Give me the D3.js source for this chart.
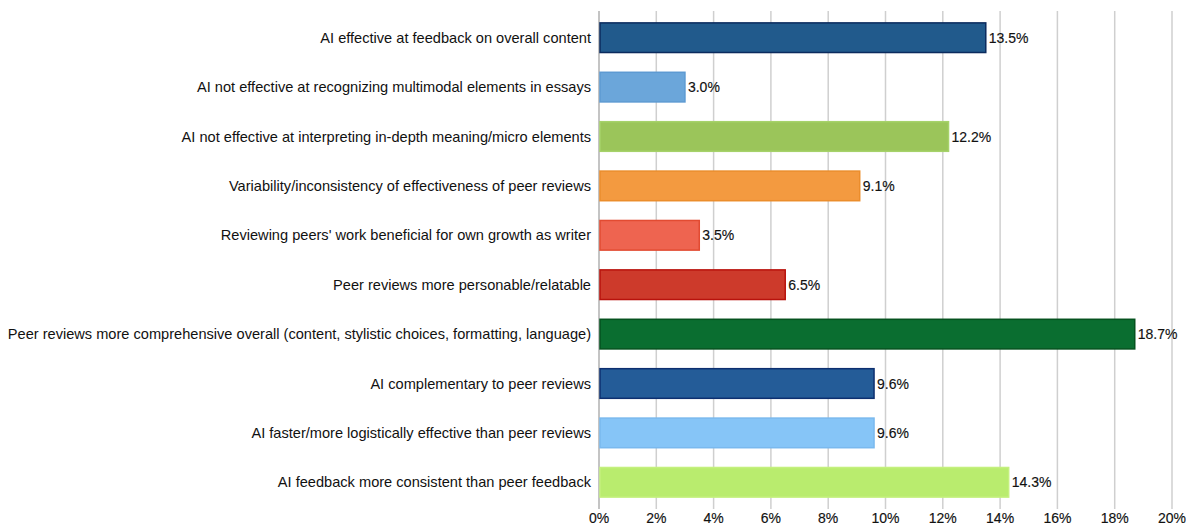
<!DOCTYPE html>
<html>
<head>
<meta charset="utf-8">
<script src="https://cdn.jsdelivr.net/npm/d3@7"></script>
<style>
  body { margin: 0; background: #fff; }
  text { font-family: "Liberation Sans", Arial, Helvetica, sans-serif; fill: #111; }
</style>
</head>
<body>
<svg id="chart" width="1186" height="525"></svg>
<script>
const categories = [
  'AI effective at feedback on overall content',
  'AI not effective at recognizing multimodal elements in essays',
  'AI not effective at interpreting in-depth meaning/micro elements',
  'Variability/inconsistency of effectiveness of peer reviews',
  "Reviewing peers' work beneficial for own growth as writer",
  'Peer reviews more personable/relatable',
  'Peer reviews more comprehensive overall (content, stylistic choices, formatting, language)',
  'AI complementary to peer reviews',
  'AI faster/more logistically effective than peer reviews',
  'AI feedback more consistent than peer feedback'
];
const values = [13.5, 3.0, 12.2, 9.1, 3.5, 6.5, 18.7, 9.6, 9.6, 14.3];
const fills = ['#215a8c', '#6ba6da', '#9bc55a', '#f39a40', '#ee6450', '#cd3a2b', '#0a6e30', '#245c98', '#86c5f7', '#b9ec6e'];
const strokes = ['#0b2b5e', '#5d9ad2', '#a6d26a', '#eb8d2c', '#e24b32', '#b8120c', '#05521f', '#0d2f70', '#7ab9ee', '#c4f07e'];
const ticks = [0, 2, 4, 6, 8, 10, 12, 14, 16, 18, 20];

const margin = { top: 13, right: 14, bottom: 18, left: 599 };
const width = 1186, height = 525;

const svg = d3.select('#chart');

const x = d3.scaleLinear()
  .domain([0, 20])
  .range([margin.left, width - margin.right]);

const y = d3.scaleBand()
  .domain(categories)
  .range([margin.top, height - margin.bottom])
  .paddingInner(0.4)
  .paddingOuter(0.2);

// grid
svg.append('g')
  .selectAll('line')
  .data(ticks)
  .enter()
  .append('line')
  .attr('x1', d => x(d))
  .attr('x2', d => x(d))
  .attr('y1', margin.top - 2)
  .attr('y2', height - margin.bottom + 2)
  .attr('stroke', d => d === 0 ? '#b0b0b0' : '#cfcfcf')
  .attr('stroke-width', 1.5);

// tick labels
svg.append('g')
  .selectAll('text')
  .data(ticks)
  .enter()
  .append('text')
  .attr('x', d => x(d))
  .attr('y', height - 2)
  .attr('text-anchor', 'middle')
  .attr('font-size', '14px')
  .attr('stroke', '#111')
  .attr('stroke-width', 0.15)
  .text(d => d + '%');

// bars
svg.append('g')
  .selectAll('rect')
  .data(values)
  .enter()
  .append('rect')
  .attr('x', x(0) + 1)
  .attr('y', (d, i) => y(categories[i]))
  .attr('width', d => x(d) - x(0) - 1)
  .attr('height', y.bandwidth())
  .attr('fill', (d, i) => fills[i])
  .attr('stroke', (d, i) => strokes[i])
  .attr('stroke-width', 1.5);

// value labels
svg.append('g')
  .selectAll('text')
  .data(values)
  .enter()
  .append('text')
  .attr('x', d => x(d) + 3)
  .attr('y', (d, i) => y(categories[i]) + y.bandwidth() / 2)
  .attr('dominant-baseline', 'central')
  .attr('font-size', '14px')
  .attr('stroke', '#111')
  .attr('stroke-width', 0.15)
  .text(d => d.toFixed(1) + '%');

// category labels
svg.append('g')
  .selectAll('text')
  .data(categories)
  .enter()
  .append('text')
  .attr('x', margin.left - 8)
  .attr('y', d => y(d) + y.bandwidth() / 2)
  .attr('text-anchor', 'end')
  .attr('dominant-baseline', 'central')
  .attr('font-size', '14.6px')
  .text(d => d);
</script>
</body>
</html>
